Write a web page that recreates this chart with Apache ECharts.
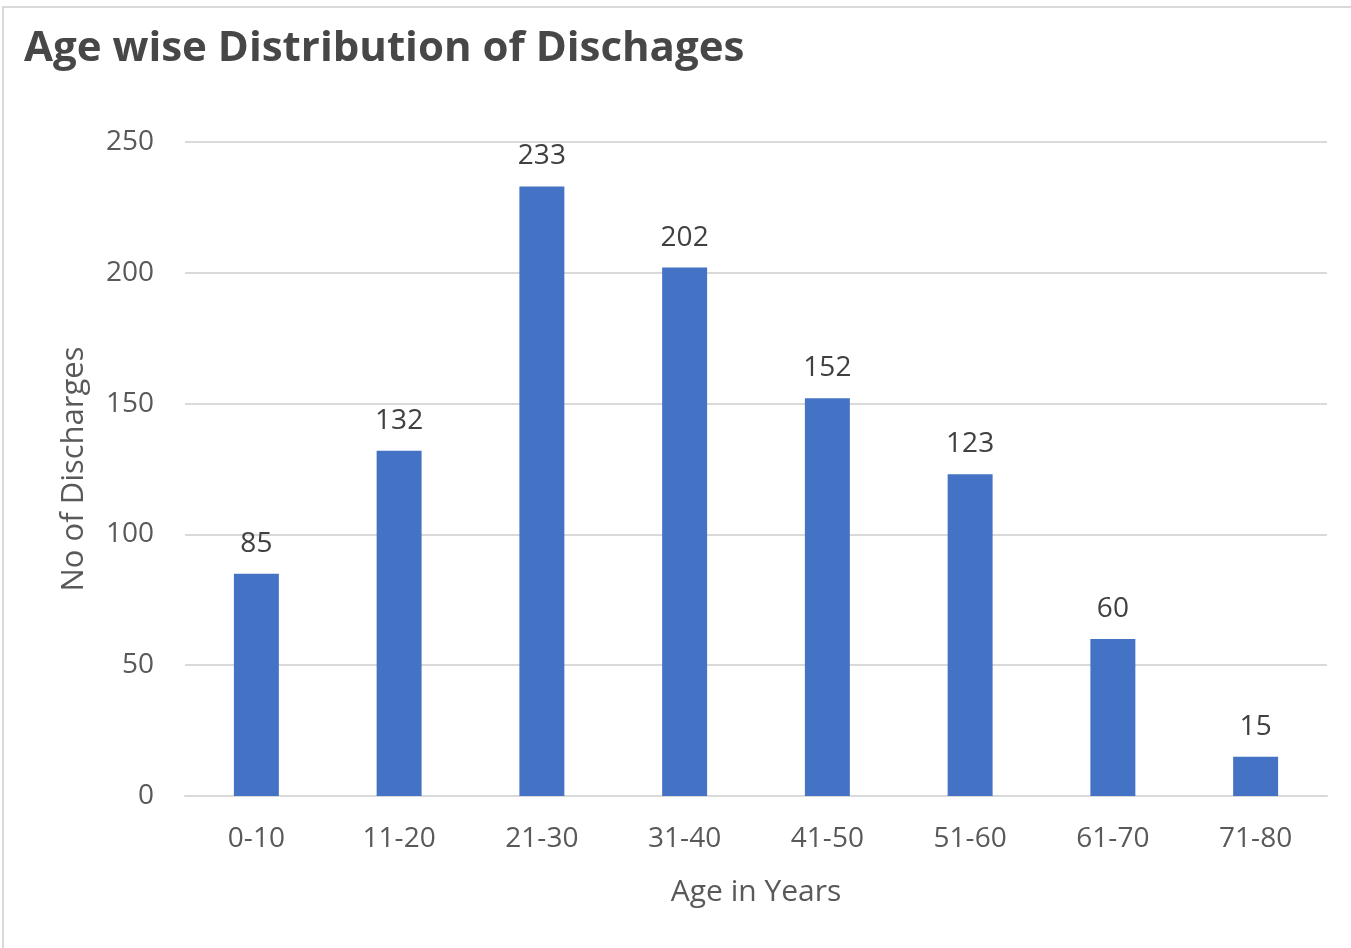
<!DOCTYPE html>
<html>
<head>
<meta charset="utf-8">
<script src="https://cdn.jsdelivr.net/npm/echarts@6/dist/echarts.min.js"></script>
<style>
  html, body { margin: 0; padding: 0; background: #fff; }
  #chart { width: 1351px; height: 948px; }
</style>
</head>
<body>
<div id="chart"></div>
<script>
const ageGroups = ['0-10', '11-20', '21-30', '31-40', '41-50', '51-60', '61-70', '71-80'];
const discharges = [85, 132, 233, 202, 152, 123, 60, 15];
const yTicks = [0, 50, 100, 150, 200, 250];

const chart = echarts.init(document.getElementById('chart'));
const textFont = 'Open Sans';
chart.setOption({
  animation: false,
  backgroundColor: '#fff',
  title: {
    text: 'Age wise Distribution of Dischages',
    left: 19,
    top: 23,
    textStyle: { fontFamily: textFont, fontWeight: 'bold', fontSize: 42, color: '#474747' }
  },
  graphic: [{
    type: 'rect',
    shape: { x: 3, y: 7, width: 1360, height: 960 },
    style: { fill: 'none', stroke: '#d9d9d9', lineWidth: 2 },
    silent: true
  }],
  grid: { left: 185, right: 24, top: 142, bottom: 152 },
  xAxis: {
    type: 'category',
    data: ageGroups,
    name: 'Age in Years',
    nameLocation: 'middle',
    nameGap: 81,
    nameTextStyle: { fontFamily: textFont, fontSize: 30, color: '#595959' },
    axisLine: { lineStyle: { color: '#d9d9d9', width: 2 } },
    axisTick: { show: false },
    axisLabel: { fontFamily: textFont, fontSize: 28, color: '#595959', margin: 29 }
  },
  yAxis: {
    type: 'value',
    min: yTicks[0],
    max: yTicks[yTicks.length - 1],
    interval: yTicks[1] - yTicks[0],
    name: 'No of Discharges',
    nameLocation: 'middle',
    nameGap: 95,
    nameTextStyle: { fontFamily: textFont, fontSize: 31, color: '#595959' },
    axisLine: { show: false },
    axisTick: { show: false },
    splitLine: { lineStyle: { color: '#d9d9d9', width: 2 } },
    axisLabel: { fontFamily: textFont, fontSize: 28, color: '#595959', margin: 31 }
  },
  series: [{
    type: 'bar',
    data: discharges,
    barWidth: '31.5%',
    itemStyle: { color: '#4472C4' },
    label: {
      show: true,
      position: 'top',
      distance: 16,
      fontFamily: textFont,
      fontSize: 28,
      color: '#404040'
    }
  }]
});
</script>
</body>
</html>
